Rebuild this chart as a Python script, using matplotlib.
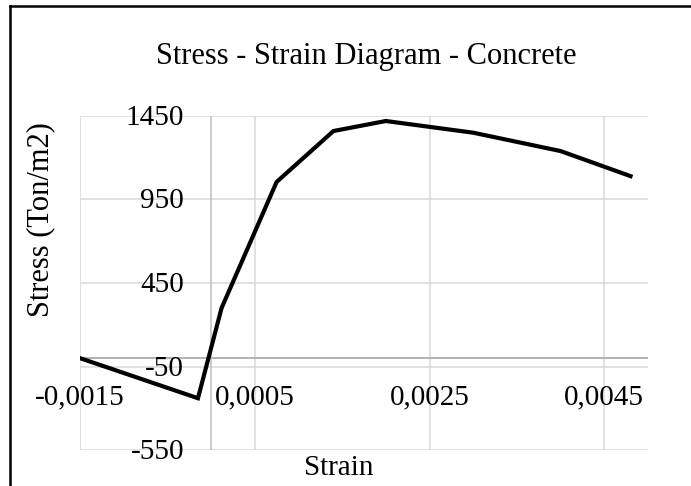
import matplotlib
matplotlib.use("Agg")
import matplotlib.pyplot as plt
from matplotlib.lines import Line2D

# stress-strain curve for concrete (strain, stress in Ton/m2)
strain = [-0.0015, -0.00015, 0.00012, 0.00075, 0.0014, 0.0020, 0.0030, 0.0040, 0.0048]
stress = [0, -240, 300, 1055, 1360, 1420, 1350, 1240, 1090]

x_ticks = [-0.0015, 0.0005, 0.0025, 0.0045]
x_tick_labels = ["-0,0015", "0,0005", "0,0025", "0,0045"]
y_ticks = [1450, 950, 450, -50, -550]
y_tick_labels = ["1450", "950", "450", "-50", "-550"]

W, H = 691, 486
plt.rcParams["font.family"] = ["Liberation Serif", "DejaVu Serif"]

fig = plt.figure(figsize=(W / 100, H / 100), dpi=100)
ax = fig.add_axes([80 / W, 36 / H, (648 - 80) / W, (450 - 116) / H])

ax.set_xlim(-0.0015, 0.005)
ax.set_ylim(-550, 1450)
for s in ax.spines.values():
    s.set_visible(False)
ax.set_xticks(x_ticks)
ax.set_yticks(y_ticks)
ax.tick_params(length=0, labelbottom=False, labelleft=False)
ax.grid(True, color="#d9d9d9", lw=1.1)
ax.set_axisbelow(True)

# axis lines through the origin
ax.axhline(0, color="#a6a6a6", lw=1.2, zorder=1)
ax.axvline(0, color="#bfbfbf", lw=1.1, zorder=1)

ax.plot(strain, stress, color="black", lw=3.0, solid_joinstyle="miter", zorder=3)

# tick labels sit next to the axes crossing at zero
for v, lab in zip(y_ticks, y_tick_labels):
    ax.annotate(lab, xy=(0, v), xytext=(-27, -9), textcoords="offset pixels",
                ha="right", va="baseline", fontsize=21, annotation_clip=False)
for v, lab in zip(x_ticks, x_tick_labels):
    ax.annotate(lab, xy=(v, 0), xytext=(0, -46), textcoords="offset pixels",
                ha="center", va="baseline", fontsize=21, annotation_clip=False)

fig.text(366 / W, 1 - 64 / H, "Stress - Strain Diagram - Concrete",
         ha="center", va="baseline", fontsize=22)
fig.text(339 / W, 1 - 475 / H, "Strain", ha="center", va="baseline", fontsize=21)
fig.text(41 / W, 1 - 220 / H, "Stress (Ton/m2)", ha="center", va="center",
         rotation=90, fontsize=22)

# chart border (left and top edges)
fig.add_artist(Line2D([10 / W, 10 / W], [-0.05, 1 - 6 / H], color="black", lw=1.8,
                      transform=fig.transFigure))
fig.add_artist(Line2D([10 / W, 1.05], [1 - 6 / H, 1 - 6 / H], color="black", lw=1.8,
                      transform=fig.transFigure))

fig.savefig("out.png", dpi=100)
